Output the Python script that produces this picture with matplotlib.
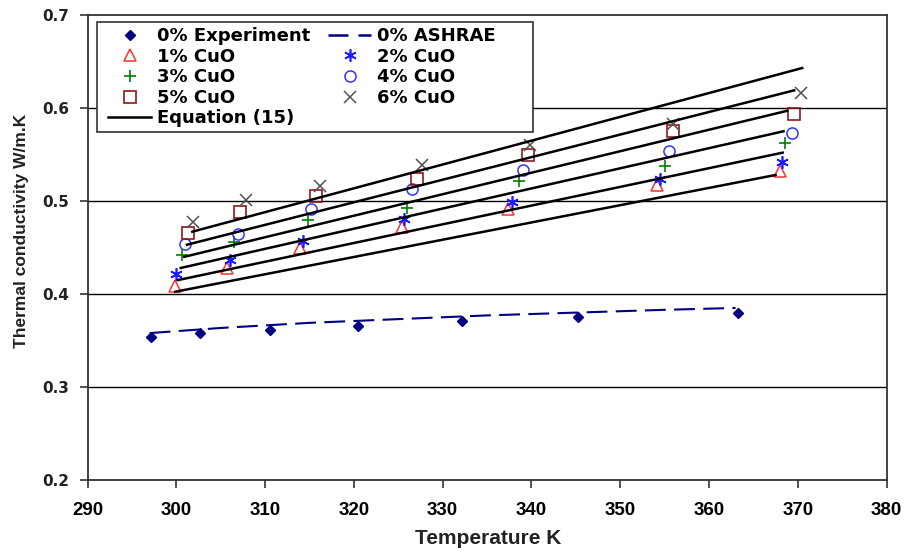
import matplotlib.pyplot as plt
from matplotlib.patches import Rectangle
from matplotlib.lines import Line2D

# base fluid: measured points and ASHRAE curve
T_exp = [297.2, 302.7, 310.6, 320.5, 332.2, 345.3, 363.3]
k_exp = [0.354, 0.358, 0.361, 0.366, 0.371, 0.375, 0.380]
T_ashrae = [297, 305, 315, 325, 335, 345, 355, 363]
k_ashrae = [0.358, 0.3635, 0.369, 0.373, 0.377, 0.380, 0.383, 0.385]

# CuO nanofluids, 1% to 6%
T_1 = [299.9, 305.7, 313.9, 325.4, 337.4, 354.1, 368.0]
k_1 = [0.409, 0.428, 0.450, 0.472, 0.491, 0.517, 0.532]
T_2 = [300.0, 306.0, 314.3, 325.7, 337.8, 354.5, 368.2]
k_2 = [0.421, 0.437, 0.457, 0.481, 0.499, 0.524, 0.542]
T_3 = [300.6, 306.5, 314.8, 326.0, 338.6, 355.1, 368.6]
k_3 = [0.442, 0.456, 0.480, 0.492, 0.521, 0.538, 0.562]
T_4 = [301.0, 306.9, 315.2, 326.6, 339.0, 355.5, 369.3]
k_4 = [0.454, 0.465, 0.491, 0.513, 0.533, 0.554, 0.573]
T_5 = [301.3, 307.2, 315.7, 327.1, 339.6, 356.0, 369.6]
k_5 = [0.466, 0.488, 0.505, 0.524, 0.549, 0.575, 0.594]
T_6 = [301.9, 307.9, 316.2, 327.7, 339.8, 356.0, 370.4]
k_6 = [0.477, 0.501, 0.516, 0.539, 0.560, 0.583, 0.616]

# Equation (15) straight lines, one per concentration (start / end)
eq_T0 = [299.9, 300.2, 300.5, 300.9, 301.2, 301.8]
eq_T1 = [367.5, 368.3, 368.4, 368.8, 369.6, 370.5]
eq_k0 = [0.4025, 0.415, 0.428, 0.440, 0.453, 0.467]
eq_k1 = [0.528, 0.552, 0.575, 0.597, 0.619, 0.643]

x_ticks = [290, 300, 310, 320, 330, 340, 350, 360, 370, 380]
y_ticks = [0.2, 0.3, 0.4, 0.5, 0.6, 0.7]

fig = plt.figure(figsize=(9.06, 5.52), dpi=100)
ax = fig.add_axes([0.0966, 0.1304, 0.8819, 0.8424])

for y in [0.3, 0.4, 0.5, 0.6]:
    ax.axhline(y, color='black', lw=1.0, zorder=1)

ax.plot(T_ashrae, k_ashrae, color='#000080', lw=1.5, dashes=(10, 4), zorder=3)
ax.plot(T_exp, k_exp, 'D', color='#000080', ms=5.5, zorder=4, ls='none')

ax.plot(T_1, k_1, '^', mfc='none', mec='#ff3030', mew=1.1, ms=8, ls='none', zorder=4)
ax.plot(T_2, k_2, marker=(6, 2, 0), color='#1a1aff', mew=1.2, ms=9, ls='none', zorder=4)
ax.plot(T_3, k_3, '+', color='#008000', mew=1.2, ms=9, ls='none', zorder=4)
ax.plot(T_4, k_4, 'o', mfc='none', mec='#3333ff', mew=1.1, ms=8, ls='none', zorder=4)
ax.plot(T_5, k_5, 's', mfc='none', mec='#8b1a1a', mew=1.2, ms=8, ls='none', zorder=4)
ax.plot(T_6, k_6, 'x', color='#505050', mew=1.1, ms=8, ls='none', zorder=4)

for t0, t1, a, b in zip(eq_T0, eq_T1, eq_k0, eq_k1):
    ax.plot([t0, t1], [a, b], color='black', lw=1.8, zorder=5)

ax.set_xlim(290, 380)
ax.set_ylim(0.2, 0.7)
ax.set_xticks(x_ticks)
ax.set_yticks(y_ticks)
ax.set_xticklabels([str(t) for t in x_ticks], family='Liberation Sans',
                   fontweight='bold', fontsize=13.5)
ax.set_yticklabels(['%.1f' % t for t in y_ticks], family='DejaVu Sans',
                   fontweight='bold', fontsize=11, color='#222222')
ax.tick_params(axis='x', direction='out', length=6, width=1.2, pad=10, color='#333333')
ax.tick_params(axis='y', direction='out', length=6, width=1.2, pad=7, color='#333333')
for s in ax.spines.values():
    s.set_color('#333333')
    s.set_linewidth(1.3)

fig.text(488 / 906, 1 - 538 / 552, 'Temperature K', family='Liberation Sans',
         fontweight='bold', fontsize=15, ha='center', va='center', color='#222222')
fig.text(22 / 906, 1 - 231 / 552, 'Thermal conductivity W/m.K', family='Liberation Sans',
         fontweight='bold', fontsize=12.5, rotation=90, ha='center', va='center',
         color='#222222')

# legend entries, column-major so the ASHRAE line heads the second column
handles = [
    Line2D([], [], marker='D', color='#000080', ms=5.5, ls='none'),
    Line2D([], [], marker='^', mfc='none', mec='#ff3030', mew=1.1, ms=8, ls='none'),
    Line2D([], [], marker='+', color='#008000', mew=1.2, ms=9, ls='none'),
    Line2D([], [], marker='s', mfc='none', mec='#8b1a1a', mew=1.2, ms=8, ls='none'),
    Line2D([], [], color='black', lw=1.8),
    Line2D([], [], color='#000080', lw=1.8, dashes=(8, 4)),
    Line2D([], [], marker=(6, 2, 0), color='#1a1aff', mew=1.2, ms=9, ls='none'),
    Line2D([], [], marker='o', mfc='none', mec='#3333ff', mew=1.1, ms=8, ls='none'),
    Line2D([], [], marker='x', color='#505050', mew=1.1, ms=8, ls='none'),
]
labels = ['0% Experiment', '1% CuO', '3% CuO', '5% CuO', 'Equation (15)',
          '0% ASHRAE', '2% CuO', '4% CuO', '6% CuO']
leg = ax.legend(handles, labels, ncol=2, loc='upper left',
                bbox_to_anchor=(0.012, 0.997), borderaxespad=0, frameon=False,
                prop={'family': 'DejaVu Sans', 'weight': 'bold', 'size': 13},
                handlelength=2.4, handletextpad=0.3, labelspacing=0.14,
                columnspacing=1.0, borderpad=0.6)
leg.set_zorder(10)
# legend frame, white so the gridline passes behind it
ax.add_patch(Rectangle((97, 552 - 132), 436, 110, transform=None,
                       fc='white', ec='#333333', lw=1.2, zorder=9))

fig.savefig('out.png', dpi=100)
